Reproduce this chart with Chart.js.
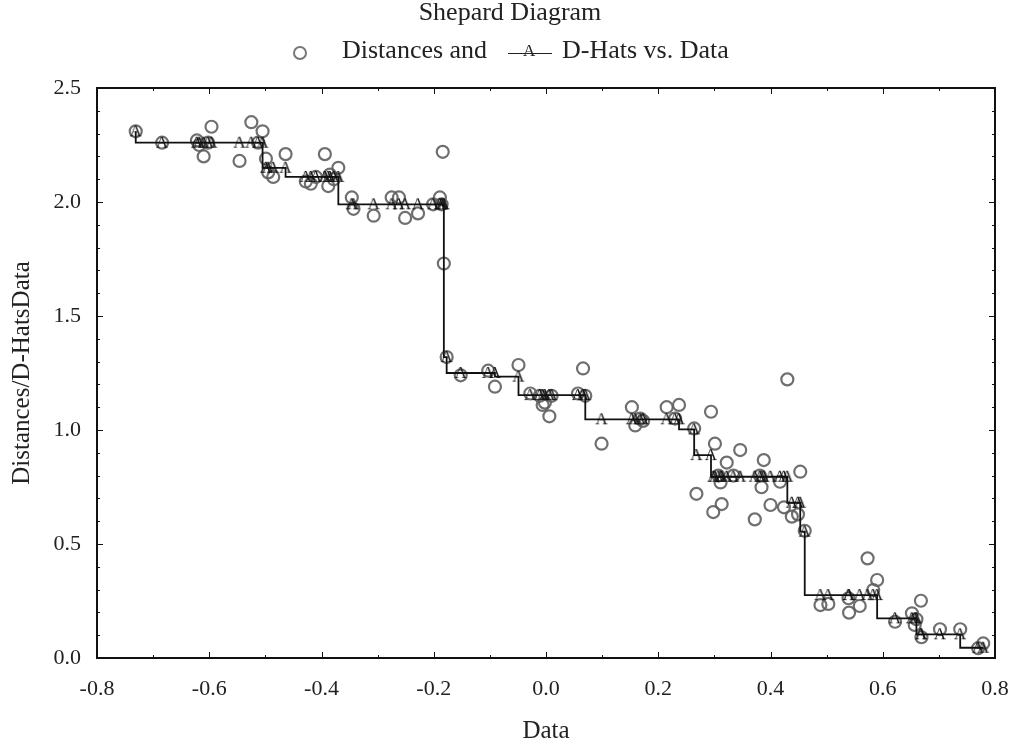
<!DOCTYPE html>
<html>
<head>
<meta charset="utf-8">
<script src="https://cdn.jsdelivr.net/npm/chart.js@4.4.1/dist/chart.umd.min.js"></script>
<style>
    body { margin: 0; background: #fff; }
    #wrap { position: relative; width: 1018px; height: 746px; font-family: "Liberation Serif", "Times New Roman", serif; color: #222; }
    #titulo { position: absolute; top: -3px; left: 0; width: 1020px; text-align: center; font-size: 26px; line-height: 30px; white-space: nowrap; }
    .ley { position: absolute; font-size: 26px; line-height: 30px; white-space: nowrap; top: 35px; }
    .circ { position: absolute; left: 293px; top: 46px; width: 10px; height: 10px; border: 2px solid #777; border-radius: 50%; }
    .dh { position: absolute; left: 508px; top: 40px; width: 44px; height: 22px; }
    .dh::before { content: ""; position: absolute; left: 0; right: 0; top: 13px; border-top: 1.5px solid #222; }
    .dh span { position: absolute; left: 15px; top: 2px; font-size: 17px; line-height: 18px; }
    canvas { position: absolute; top: 0; left: 0; }
</style>
</head>
<body>
<div id="wrap">
    <canvas id="chart" width="1018" height="746"></canvas>
    <div id="titulo">Shepard Diagram</div>
    <div class="circ"></div>
    <div class="ley" style="left:342px">Distances and</div>
    <div class="dh"><span>A</span></div>
    <div class="ley" style="left:562px">D-Hats vs. Data</div>
</div>
<script>
// ---------- DATOS ----------
const dataX = [
    -0.731, -0.684, -0.622, -0.618, -0.610, -0.602, -0.596, -0.546, -0.525, -0.513, -0.505,
    -0.499, -0.495, -0.486, -0.464,
    -0.428, -0.419, -0.410, -0.394, -0.388, -0.385, -0.378, -0.370,
    -0.346, -0.343, -0.307, -0.275, -0.262, -0.251, -0.228, -0.201, -0.189, -0.186, -0.184, -0.182,
    -0.177, -0.152, -0.103, -0.091, -0.049,
    -0.028, -0.011, -0.006, -0.002, 0.006, 0.010, 0.057, 0.066, 0.070,
    0.099, 0.153, 0.159, 0.168, 0.173, 0.215, 0.230, 0.237, 0.264, 0.268, 0.294,
    0.298, 0.301, 0.307, 0.311, 0.313, 0.322, 0.334, 0.346, 0.372, 0.381, 0.384, 0.388, 0.400, 0.417, 0.424, 0.430,
    0.438, 0.449, 0.453, 0.461,
    0.489, 0.503, 0.539, 0.540, 0.559, 0.573, 0.583, 0.590,
    0.622, 0.652, 0.657, 0.660, 0.668, 0.669, 0.702, 0.738, 0.770, 0.779
];
const distances = [
    2.31, 2.26, 2.27, 2.25, 2.20, 2.26, 2.33, 2.18, 2.35, 2.26, 2.31,
    2.19, 2.13, 2.11, 2.21,
    2.09, 2.08, 2.11, 2.21, 2.07, 2.12, 2.10, 2.15,
    2.02, 1.97, 1.94, 2.02, 2.02, 1.93, 1.95, 1.99, 2.02, 1.99, 2.22, 1.73,
    1.32, 1.24, 1.26, 1.19, 1.285,
    1.16, 1.15, 1.11, 1.12, 1.06, 1.15, 1.16, 1.27, 1.15,
    0.94, 1.10, 1.02, 1.05, 1.04, 1.10, 1.05, 1.11, 1.007, 0.72, 1.08,
    0.64, 0.94, 0.80, 0.77, 0.675, 0.857, 0.80, 0.912, 0.608, 0.80, 0.749, 0.868, 0.671, 0.773, 0.661, 1.222,
    0.62, 0.63, 0.817, 0.558,
    0.232, 0.237, 0.262, 0.199, 0.228, 0.437, 0.298, 0.342,
    0.159, 0.196, 0.145, 0.17, 0.251, 0.091, 0.126, 0.126, 0.043, 0.064
];
const dHats = [
    2.31, 2.26, 2.26, 2.26, 2.26, 2.26, 2.26, 2.26, 2.26, 2.26, 2.26,
    2.15, 2.15, 2.15, 2.15,
    2.11, 2.11, 2.11, 2.11, 2.11, 2.11, 2.11, 2.11,
    1.99, 1.99, 1.99, 1.99, 1.99, 1.99, 1.99, 1.99, 1.99, 1.99, 1.99, 1.99,
    1.32, 1.25, 1.25, 1.25, 1.234,
    1.153, 1.153, 1.153, 1.153, 1.153, 1.153, 1.153, 1.153, 1.153,
    1.047, 1.047, 1.047, 1.047, 1.047, 1.047, 1.047, 1.047, 1.003, 0.89, 0.89,
    0.795, 0.795, 0.795, 0.795, 0.795, 0.795, 0.795, 0.795, 0.795, 0.795, 0.795, 0.795, 0.795, 0.795, 0.795, 0.795,
    0.681, 0.681, 0.681, 0.554,
    0.276, 0.276, 0.276, 0.276, 0.276, 0.276, 0.276, 0.276,
    0.174, 0.174, 0.174, 0.174, 0.104, 0.104, 0.104, 0.104, 0.045, 0.045
];
const xTicks = [-0.8, -0.6, -0.4, -0.2, 0.0, 0.2, 0.4, 0.6, 0.8];
const yTicks = [0.0, 0.5, 1.0, 1.5, 2.0, 2.5];

// ---------- MARCADOR "A" ----------
function crearMarcadorA() {
    const c = document.createElement('canvas');
    c.width = 16;
    c.height = 16;
    const g = c.getContext('2d');
    g.fillStyle = '#111';
    g.font = '17px "Liberation Serif"';
    g.textAlign = 'center';
    g.textBaseline = 'middle';
    g.fillText('A', 8, 8.5);
    return c;
}

// ---------- MARCO Y MARCAS HACIA DENTRO ----------
const marcoPlugin = {
    id: 'marco',
    afterDatasetsDraw(chart) {
        const { ctx, chartArea: a, scales } = chart;
        const sx = scales.x, sy = scales.y;
        ctx.save();
        ctx.strokeStyle = '#111';
        ctx.lineWidth = 1;
        for (let i = -8; i <= 8; i++) {
            const px = Math.round(sx.getPixelForValue(i / 10)) + 0.5;
            const len = (i % 2 === 0) ? 6 : 3;
            ctx.beginPath();
            ctx.moveTo(px, a.bottom); ctx.lineTo(px, a.bottom - len);
            ctx.moveTo(px, a.top); ctx.lineTo(px, a.top + len);
            ctx.stroke();
        }
        for (let i = 0; i <= 25; i++) {
            const py = Math.round(sy.getPixelForValue(i / 10)) + 0.5;
            const len = (i % 5 === 0) ? 6 : 3;
            ctx.beginPath();
            ctx.moveTo(a.left, py); ctx.lineTo(a.left + len, py);
            ctx.moveTo(a.right, py); ctx.lineTo(a.right - len, py);
            ctx.stroke();
        }
        ctx.lineWidth = 2;
        ctx.strokeRect(a.left, a.top, a.right - a.left, a.bottom - a.top);
        ctx.restore();
    }
};

// ---------- GRÁFICA ----------
const fuenteTicks = { family: '"Liberation Serif", "Times New Roman", serif', size: 22 };
const fuenteTitulo = { family: '"Liberation Serif", "Times New Roman", serif', size: 25 };

new Chart(document.getElementById('chart'), {
    type: 'scatter',
    data: {
        datasets: [{
            type: 'line',
            label: 'D-Hats',
            data: dataX.map((x, i) => ({ x: x, y: dHats[i] })),
            stepped: 'after',
            borderColor: '#111',
            borderWidth: 1.8,
            pointStyle: crearMarcadorA(),
            pointRadius: 4,
            fill: false
        }, {
            label: 'Distances',
            data: dataX.map((x, i) => ({ x: x, y: distances[i] })),
            pointStyle: 'circle',
            pointRadius: 6,
            borderWidth: 2.2,
            borderColor: 'rgba(95,95,95,0.9)',
            backgroundColor: 'rgba(0,0,0,0)'
        }]
    },
    options: {
        responsive: false,
        animation: false,
        devicePixelRatio: 1,
        layout: { padding: { top: 88, right: 23, left: 0, bottom: 0 } },
        plugins: {
            legend: { display: false },
            tooltip: { enabled: false }
        },
        scales: {
            x: {
                type: 'linear',
                min: -0.8, max: 0.8,
                afterFit: s => { s.height = 88; s.paddingLeft = 0; s.paddingRight = 0; },
                afterBuildTicks: s => { s.ticks = xTicks.map(v => ({ value: v })); },
                grid: { display: false, drawTicks: false },
                border: { display: false },
                ticks: {
                    color: '#222', font: fuenteTicks, padding: 18,
                    callback: v => v.toFixed(1)
                },
                title: { display: true, text: 'Data', color: '#222', font: fuenteTitulo, padding: { top: 0, bottom: 0 } }
            },
            y: {
                type: 'linear',
                min: 0, max: 2.5,
                afterFit: s => { s.width = 97; s.paddingTop = 0; s.paddingBottom = 0; },
                afterBuildTicks: s => { s.ticks = yTicks.map(v => ({ value: v })); },
                grid: { display: false, drawTicks: false },
                border: { display: false },
                ticks: {
                    color: '#222', font: fuenteTicks, padding: 16,
                    callback: v => v.toFixed(1)
                },
                title: { display: true, text: 'Distances/D-HatsData', color: '#222', font: fuenteTitulo, padding: { top: 7, bottom: 0 } }
            }
        }
    },
    plugins: [marcoPlugin]
});
</script>
</body>
</html>
